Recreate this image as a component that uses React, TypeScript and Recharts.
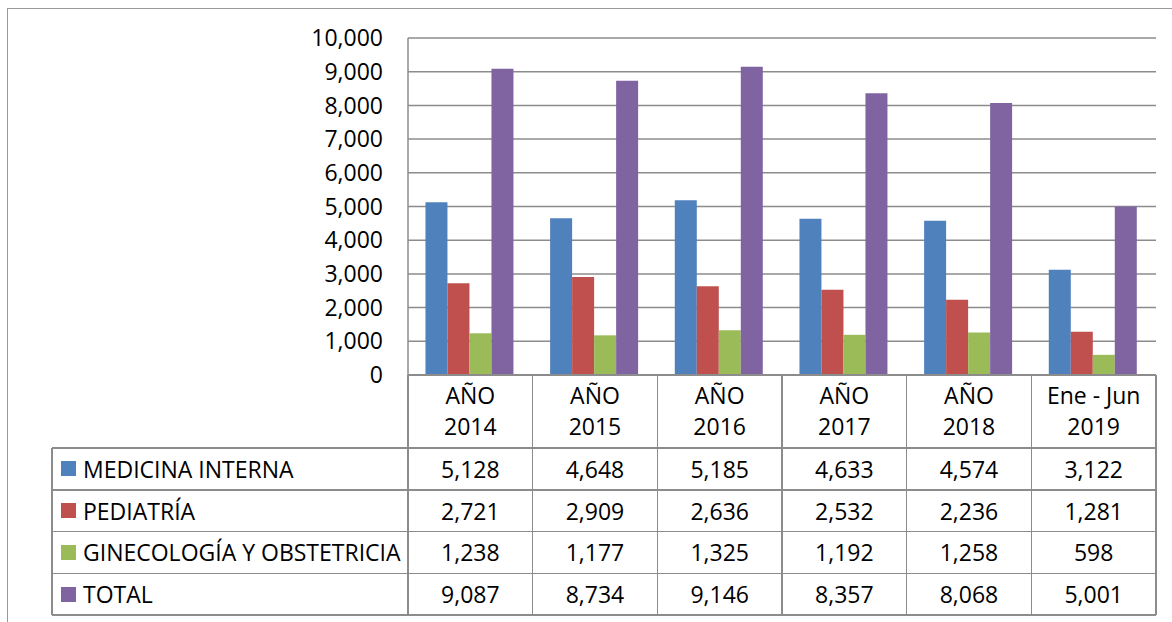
import { Bar, BarChart, CartesianGrid, XAxis, YAxis } from "recharts";

const periodTop = ["AÑO", "AÑO", "AÑO", "AÑO", "AÑO", "Ene - Jun"];
const periodBottom = ["2014", "2015", "2016", "2017", "2018", "2019"];

const medicinaInterna = [5128, 4648, 5185, 4633, 4574, 3122];
const pediatria = [2721, 2909, 2636, 2532, 2236, 1281];
const ginecologia = [1238, 1177, 1325, 1192, 1258, 598];
const total = [9087, 8734, 9146, 8357, 8068, 5001];

const yTicks = [0, 1000, 2000, 3000, 4000, 5000, 6000, 7000, 8000, 9000, 10000];

const series = [
  { key: "mi", name: "MEDICINA INTERNA", color: "#4F81BD", values: medicinaInterna },
  { key: "ped", name: "PEDIATRÍA", color: "#C0504D", values: pediatria },
  { key: "gin", name: "GINECOLOGÍA Y OBSTETRICIA", color: "#9BBB59", values: ginecologia },
  { key: "tot", name: "TOTAL", color: "#8064A2", values: total },
];

const data = periodBottom.map((y, i) => {
  const row: Record<string, string | number> = { cat: `${periodTop[i]} ${y}` };
  series.forEach((s) => (row[s.key] = s.values[i]));
  return row;
});

const W = 1172;
const H = 622;
const PLOT_LEFT = 408;
const PLOT_RIGHT = 1156;
const PLOT_TOP = 38;
const AXIS_Y = 375;
const HEADER_BOTTOM = 448;
const ROW_H = 41.75;
const TABLE_LEFT = 52;
const COL_W = (PLOT_RIGHT - PLOT_LEFT) / periodBottom.length;
const LINE = "#8c8c8c";
const FONT = "'Open Sans', sans-serif";
const FS = 23;

const fmt = (v: number) => v.toLocaleString("en-US");

function HLine({ x1, x2, y }: { x1: number; x2: number; y: number }) {
  return (
    <div style={{ position: "absolute", left: x1, top: y - 0.75, width: x2 - x1, height: 1.5, background: LINE }} />
  );
}

function VLine({ x, y1, y2 }: { x: number; y1: number; y2: number }) {
  return (
    <div style={{ position: "absolute", left: x - 0.75, top: y1, width: 1.5, height: y2 - y1, background: LINE }} />
  );
}

function DataTable() {
  const bottom = HEADER_BOTTOM + ROW_H * series.length;
  const cells = [];
  periodBottom.forEach((y, i) => {
    cells.push(
      <div
        key={`h${i}`}
        style={{
          position: "absolute",
          left: PLOT_LEFT + i * COL_W,
          top: AXIS_Y + 5,
          width: COL_W,
          textAlign: "center",
          lineHeight: "31px",
        }}
      >
        <div>{periodTop[i]}</div>
        <div>{y}</div>
      </div>
    );
  });
  series.forEach((s, r) => {
    const top = HEADER_BOTTOM + r * ROW_H;
    cells.push(
      <div
        key={`l${r}`}
        style={{ position: "absolute", left: TABLE_LEFT + 9, top, height: ROW_H, display: "flex", alignItems: "center" }}
      >
        <span style={{ width: 15, height: 15, background: s.color, display: "inline-block", marginRight: 7 }} />
        <span>{s.name}</span>
      </div>
    );
    s.values.forEach((v, i) => {
      cells.push(
        <div
          key={`c${r}-${i}`}
          style={{
            position: "absolute",
            left: PLOT_LEFT + i * COL_W,
            top,
            width: COL_W,
            height: ROW_H,
            display: "flex",
            alignItems: "center",
            justifyContent: "center",
          }}
        >
          {fmt(v)}
        </div>
      );
    });
  });
  const lines = [];
  lines.push(<HLine key="ax" x1={PLOT_LEFT} x2={PLOT_RIGHT} y={AXIS_Y} />);
  for (let r = 0; r <= series.length; r++) {
    lines.push(<HLine key={`hl${r}`} x1={TABLE_LEFT} x2={PLOT_RIGHT} y={HEADER_BOTTOM + r * ROW_H} />);
  }
  for (let i = 0; i <= periodBottom.length; i++) {
    lines.push(<VLine key={`vl${i}`} x={PLOT_LEFT + i * COL_W} y1={AXIS_Y} y2={bottom} />);
  }
  lines.push(<VLine key="vleft" x={TABLE_LEFT} y1={HEADER_BOTTOM} y2={bottom} />);
  return (
    <>
      {lines}
      {cells}
    </>
  );
}

export default function App() {
  return (
    <div
      style={{
        position: "absolute",
        left: 0,
        top: 0,
        width: W,
        height: H,
        overflow: "hidden",
        background: "#fff",
        fontFamily: FONT,
        fontSize: FS,
        color: "#000",
      }}
    >
      <div
        style={{
          position: "absolute",
          left: 7,
          top: 8,
          width: W + 20,
          height: H + 20,
          border: "1.5px solid #999",
          boxSizing: "border-box",
        }}
      />
      <div style={{ position: "absolute", left: 0, top: 0 }}>
        <BarChart
          width={W}
          height={H}
          data={data}
          margin={{ top: PLOT_TOP, right: W - PLOT_RIGHT, bottom: H - AXIS_Y, left: 0 }}
          barCategoryGap="14%"
          barGap={0}
        >
          <CartesianGrid horizontal vertical={false} stroke={LINE} strokeWidth={1.5} />
          <XAxis dataKey="cat" hide />
          <YAxis
            width={PLOT_LEFT}
            domain={[0, 10000]}
            ticks={yTicks}
            tickFormatter={fmt}
            tickLine={false}
            tickSize={0}
            tickMargin={25}
            axisLine={{ stroke: LINE, strokeWidth: 1.5 }}
            tick={{ fill: "#000", fontSize: FS, fontFamily: FONT }}
            interval={0}
          />
          {series.map((s) => (
            <Bar key={s.key} dataKey={s.key} name={s.name} fill={s.color} isAnimationActive={false} />
          ))}
        </BarChart>
      </div>
      <DataTable />
    </div>
  );
}
